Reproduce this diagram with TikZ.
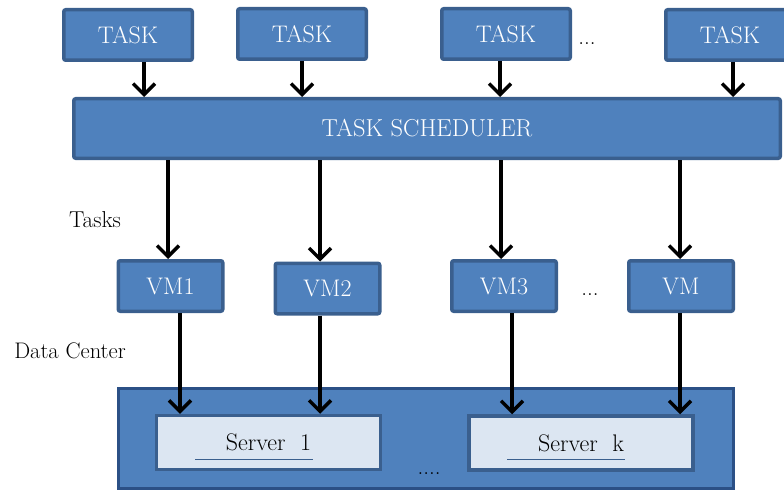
\documentclass[tikz,border=0pt]{standalone}
\usetikzlibrary{arrows.meta}

\definecolor{boxblue}{HTML}{4F81BD}
\definecolor{boxedge}{HTML}{3A5F8E}
\definecolor{dcedge}{HTML}{2B5086}
\definecolor{srvfill}{HTML}{DCE6F2}

\begin{document}
\begin{tikzpicture}[x=1pt,y=-1pt,
    blk/.style={draw=boxedge, fill=boxblue, line width=3.5pt, rounded corners=2pt,
      text=white, inner sep=0pt, font=\fontsize{24}{29}\selectfont},
    taskbox/.style={blk, minimum width=128.5pt, minimum height=50.5pt},
    vmbox/.style={blk, minimum width=104.5pt, minimum height=50.5pt},
    srvbox/.style={draw=boxedge, fill=srvfill, line width=3.5pt, inner sep=0pt,
      minimum width=224pt, minimum height=54pt, font=\fontsize{24}{29}\selectfont},
    arr/.style={line width=3.5pt, -{Straight Barb[length=11pt,width=22pt]}},
    lbl/.style={font=\fontsize{23}{28}\selectfont, inner sep=0pt}]

  \useasboundingbox (0,0) rectangle (784,492);
  \clip (0,0) rectangle (784,492);

  % tasks
  \node[taskbox] (t1) at (128,35) {TASK};
  \node[taskbox] (t2) at (302,34) {TASK};
  \node[taskbox] (t3) at (506,34) {TASK};
  \node[taskbox] (t4) at (730,35) {TASK};
  \node[lbl, anchor=base] (tdots) at (587,45) {...};

  \node[blk, minimum width=706.5pt, minimum height=59.5pt,
    font=\fontsize{24.5}{29}\selectfont] (sched) at (427,128.5) {TASK SCHEDULER};

  % virtual machines
  \node[vmbox] (vm1) at (170.5,286) {VM1};
  \node[vmbox] (vm2) at (327.5,288.5) {VM2};
  \node[vmbox] (vm3) at (504,286) {VM3};
  \node[vmbox] (vm4) at (681,286) {VM};
  \node[lbl, anchor=base] (vdots) at (590,295) {...};

  \node[lbl, anchor=base] (tasks) at (95,227) {Tasks};
  \node[lbl, anchor=base, font=\fontsize{22.5}{27}\selectfont] (dclbl) at (70,358) {Data Center};

  % data center
  \node[draw=dcedge, fill=boxblue, line width=2.5pt, minimum width=615pt,
    minimum height=100pt] (dc) at (426,438.5) {};
  \node[srvbox] (srv1) at (268.5,442.5) {Server\ \ 1};
  \node[srvbox] (srvk) at (581,443) {Server\ \ k};
  \node[lbl, anchor=base] (sdots) at (429,474) {....};
  \draw[line width=1pt, draw=boxedge] ([shift={(-73.5,16.5)}]srv1.center) -- ([shift={(44.5,16.5)}]srv1.center);
  \draw[line width=1pt, draw=boxedge] ([shift={(-74,16)}]srvk.center) -- ([shift={(44,16)}]srvk.center);

  % arrows
  \draw[arr] ([xshift=16pt]t1.south) -- ([xshift=16pt]t1.south |- sched.north);
  \draw[arr] (t2.south) -- (t2.south |- sched.north);
  \draw[arr] ([xshift=-6pt]t3.south) -- ([xshift=-6pt]t3.south |- sched.north);
  \draw[arr] ([xshift=3pt]t4.south) -- ([xshift=3pt]t4.south |- sched.north);

  \draw[arr] ([xshift=-2.5pt]vm1.north |- sched.south) -- ([xshift=-2.5pt]vm1.north);
  \draw[arr] ([xshift=-7.5pt]vm2.north |- sched.south) -- ([xshift=-7.5pt]vm2.north);
  \draw[arr] ([xshift=-3pt]vm3.north |- sched.south) -- ([xshift=-3pt]vm3.north);
  \draw[arr] ([xshift=-1pt]vm4.north |- sched.south) -- ([xshift=-1pt]vm4.north);

  \draw[arr] ([xshift=9.5pt]vm1.south) -- ([xshift=9.5pt]vm1.south |- srv1.north);
  \draw[arr] ([xshift=-7.5pt]vm2.south) -- ([xshift=-7.5pt]vm2.south |- srv1.north);
  \draw[arr] ([xshift=8pt]vm3.south) -- ([xshift=8pt]vm3.south |- srvk.north);
  \draw[arr] ([xshift=-1pt]vm4.south) -- ([xshift=-1pt]vm4.south |- srvk.north);

\end{tikzpicture}
\end{document}
